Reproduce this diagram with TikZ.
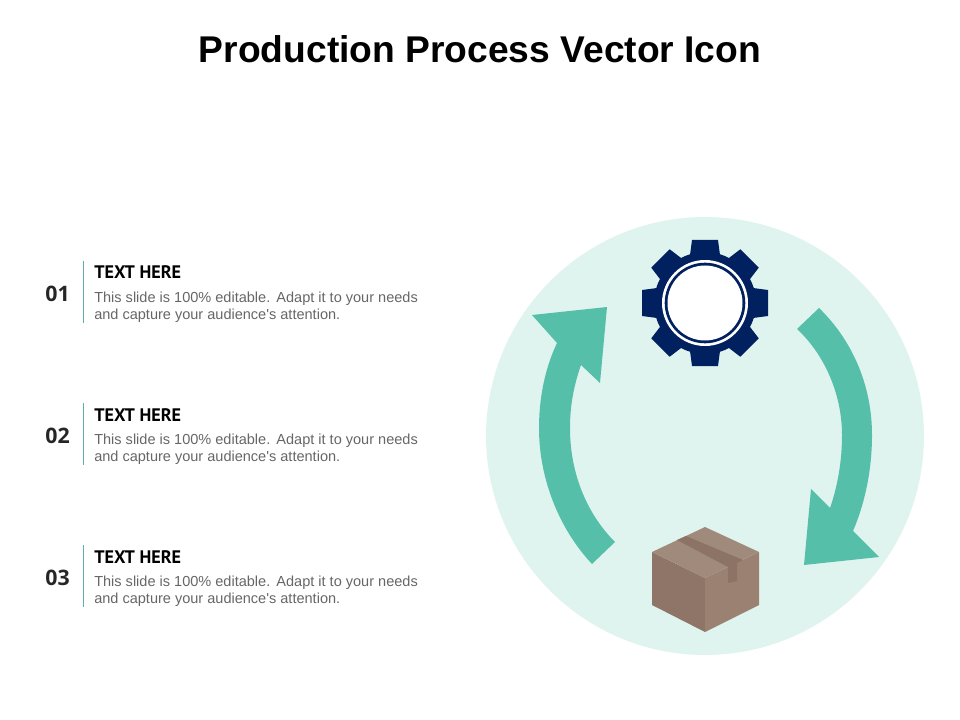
\documentclass[tikz,border=0pt]{standalone}
\usepackage{fontspec}
\setmainfont{Liberation Sans}
\newfontfamily\bodyfont{Liberation Sans}
\newfontfamily\headfont{PT Sans}
\newfontfamily\numfont{Open Sans}
\definecolor{discfill}{HTML}{E0F4EF}
\definecolor{arrowfill}{HTML}{56BFA9}
\definecolor{gearblue}{HTML}{00205F}
\definecolor{boxtop}{HTML}{A08A7C}
\definecolor{boxleft}{HTML}{8E7568}
\definecolor{boxright}{HTML}{9A8172}
\definecolor{boxtape}{HTML}{8C7365}
\definecolor{rulecolor}{HTML}{5FACAC}
\definecolor{bodygray}{HTML}{666666}
\definecolor{numgray}{HTML}{262626}
\tikzset{
  titletext/.style={font=\fontsize{27.9}{32}\selectfont\bfseries, text=black, inner sep=0pt, anchor=base},
  headtext/.style={font=\headfont\fontsize{13.6}{16}\selectfont\bfseries, text=black, inner sep=0pt, anchor=base west},
  bodytext/.style={font=\bodyfont\fontsize{10.9}{13}\selectfont, text=bodygray, inner sep=0pt, anchor=base west},
  numtext/.style={font=\numfont\fontsize{16}{19}\selectfont\bfseries, text=numgray, inner sep=0pt, anchor=base},
}
\begin{document}
\begin{tikzpicture}[x=0.75pt, y=-0.75pt]
	%%%%% START %%%%%
	\useasboundingbox (0, 0) rectangle (960, 720);

	\node[titletext] (title) at (480, 63) {Production Process Vector Icon};

	%%%%% text rows %%%%%
	\foreach \rowy/\rownum in {0/01, 142/02, 284/03} {
		\draw[rulecolor, line width=0.6pt] (83.5, 261+\rowy) -- (83.5, 323+\rowy);
		\node[numtext] (num\rownum) at (57.5, 301+\rowy) {\rownum};
		\node[headtext] (head\rownum) at (94, 279+\rowy) {TEXT HERE};
		\node[bodytext] (bodya\rownum) at (94, 302+\rowy) {This slide is 100\% editable.\ \hspace{0.14em}Adapt it to your needs};
		\node[bodytext] (bodyb\rownum) at (94, 319.5+\rowy) {and capture your audience's attention.};
	}

	\fill[discfill] (705, 436) circle (219);

	%%%%% left arrow %%%%%
	\fill[arrowfill] (607, 307) -- (532, 315) -- (557, 343)
		.. controls (545, 368) and (539, 398) .. (539, 428)
		.. controls (539, 480) and (560, 530) .. (592, 564)
		-- (615, 542)
		.. controls (588, 515) and (570, 475) .. (570, 428)
		.. controls (570, 405) and (574, 385) .. (581, 365)
		-- (600, 383) -- cycle;

	%%%%% right arrow %%%%%
	\fill[arrowfill] (819, 308)
		.. controls (852, 340) and (872, 385) .. (872, 435)
		.. controls (872, 470) and (865, 503) .. (853, 531)
		-- (879, 557) -- (804, 565) -- (811, 489) -- (830, 508)
		.. controls (838, 485) and (842, 460) .. (842, 435)
		.. controls (842, 395) and (825, 355) .. (797, 329)
		-- cycle;

	%%%%% gear %%%%%
	\fill[gearblue] (705, 303) circle (51);
	\foreach \toothangle in {0, 45, ..., 315} {
		\fill[gearblue, shift={(705, 303)}, rotate=\toothangle]
			(-15, -48) -- (-13, -63) -- (13, -63) -- (15, -48) -- cycle;
	}
	\fill[white] (705, 303) circle (43);
	\fill[gearblue] (705, 303) circle (40.3);
	\fill[white] (705, 303) circle (37.5);

	%%%%% box %%%%%
	\fill[boxleft] (652, 552) -- (705, 578) -- (705, 632) -- (652, 605) -- cycle;
	\fill[boxright] (759, 552) -- (705, 578) -- (705, 632) -- (759, 605) -- cycle;
	\fill[boxtop] (705, 527) -- (759, 552) -- (705, 578) -- (652, 552) -- cycle;
	\fill[boxtape] (677, 540) -- (686, 536) -- (743, 560) -- (737, 563)
		-- (737, 581) -- (728, 583) -- (728, 567) -- cycle;
	%%%%% END %%%%%
\end{tikzpicture}
\end{document}
